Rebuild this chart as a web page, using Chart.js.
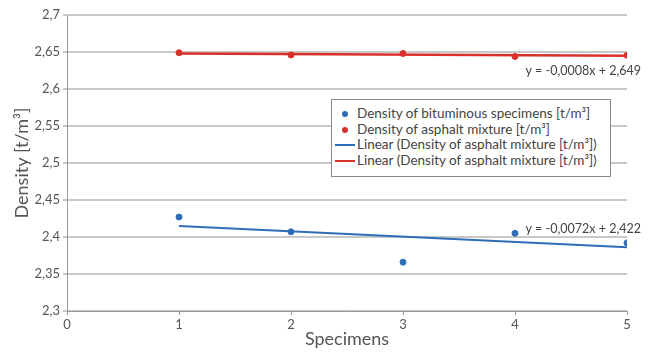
<!DOCTYPE html>
<html>
<head>
<meta charset="utf-8">
<script src="https://cdn.jsdelivr.net/npm/chart.js@4"></script>
<style>
    body { margin: 0; background: #fff; }
    #wrap { position: relative; width: 651px; height: 354px; }
    #legend {
        position: absolute; left: 331px; top: 99px; width: 280px; height: 78px;
        border: 1px solid #8a8a8a; background: #fff; box-sizing: border-box;
        font-family: Lato, sans-serif; font-size: 13.5px; color: #444;
        padding: 6px 0 0 3px; line-height: 15.5px;
    }
    .row { display: flex; align-items: center; white-space: nowrap; }
    .mk { width: 20px; height: 15px; position: relative; margin-right: 2px; }
    .dot { position: absolute; left: 7px; top: 5px; width: 6px; height: 6px; border-radius: 50%; }
    .ln { position: absolute; left: 0; top: 7px; width: 20px; height: 2px; }
</style>
</head>
<body>
<div id="wrap">
    <canvas id="chart" width="651" height="354"></canvas>
    <div id="legend"></div>
</div>
<script>

const specimens = [1, 2, 3, 4, 5];

const bituminousDensity = [2.427, 2.407, 2.366, 2.405, 2.392];

const asphaltDensity = [2.649, 2.646, 2.648, 2.644, 2.6455];

const trendX = [1, 5];

const blueTrend = [2.415, 2.386];

const redTrend = [2.648, 2.645];

const yTicks = [2.3, 2.35, 2.4, 2.45, 2.5, 2.55, 2.6, 2.65, 2.7];

const legendLabels = [
    "Density of bituminous specimens [t/m³]",
    "Density of asphalt mixture [t/m³]",
    "Linear (Density of asphalt mixture [t/m³])",
    "Linear (Density of asphalt mixture [t/m³])"
];

const blue = "#2f6db5";
const red = "#d9302b";
const textColor = "#555";
const font = "Lato, sans-serif";

const toPoints = (xs, ys) => xs.map((x, i) => ({ x: x, y: ys[i] }));

const comma = v => String(v).replace(".", ",");

const legend = document.getElementById("legend");

const legendStyles = [
    { type: "dot", color: blue },
    { type: "dot", color: red },
    { type: "ln", color: blue },
    { type: "ln", color: red }
];

legendLabels.forEach((label, i) => {
    const row = document.createElement("div");
    row.className = "row";
    const mk = document.createElement("span");
    mk.className = "mk";
    const sym = document.createElement("span");
    sym.className = legendStyles[i].type;
    sym.style.background = legendStyles[i].color;
    mk.appendChild(sym);
    const txt = document.createElement("span");
    txt.textContent = label;
    row.appendChild(mk);
    row.appendChild(txt);
    legend.appendChild(row);
});

// equation labels next to the trend lines
const equationLabels = {
    id: "equations",
    afterDatasetsDraw(chart) {
        const { ctx, scales } = chart;
        ctx.save();
        ctx.font = "12.5px " + font;
        ctx.fillStyle = "#444";
        ctx.textAlign = "right";
        ctx.textBaseline = "middle";
        ctx.fillText("y = -0,0008x + 2,649", scales.x.getPixelForValue(5) + 14, scales.y.getPixelForValue(2.6245));
        ctx.fillText("y = -0,0072x + 2,422", scales.x.getPixelForValue(5) + 14, scales.y.getPixelForValue(2.411));
        ctx.restore();
    }
};

new Chart(document.getElementById("chart"), {

    type: "scatter",

    data: {
        datasets: [
            {
                data: toPoints(trendX, redTrend),
                showLine: true,
                borderColor: red,
                borderWidth: 2.5,
                pointRadius: 0
            },
            {
                data: toPoints(trendX, blueTrend),
                showLine: true,
                borderColor: blue,
                borderWidth: 2,
                pointRadius: 0
            },
            {
                data: toPoints(specimens, asphaltDensity),
                backgroundColor: red,
                borderColor: red,
                pointRadius: 3
            },
            {
                data: toPoints(specimens, bituminousDensity),
                backgroundColor: blue,
                borderColor: blue,
                pointRadius: 3
            }
        ]
    },

    options: {
        responsive: false,
        animation: false,
        layout: { padding: { top: 15, right: 24, left: 0, bottom: 0 } },
        plugins: {
            legend: { display: false },
            tooltip: { enabled: false }
        },
        scales: {
            x: {
                type: "linear",
                min: 0,
                max: 5,
                afterFit: s => { s.height = 43; },
                ticks: {
                    stepSize: 1,
                    color: textColor,
                    font: { family: font, size: 13 },
                    padding: 2
                },
                grid: {
                    drawOnChartArea: false,
                    color: "#999",
                    tickLength: 4
                },
                border: { color: "#999", width: 1 },
                title: {
                    display: true,
                    text: "Specimens",
                    color: textColor,
                    font: { family: font, size: 18 },
                    padding: { top: 0 }
                }
            },
            y: {
                min: 2.3,
                max: 2.7,
                afterFit: s => { s.width = 67; },
                afterBuildTicks: s => { s.ticks = yTicks.map(v => ({ value: v })); },
                ticks: {
                    color: textColor,
                    font: { family: font, size: 13 },
                    padding: 3,
                    callback: v => comma(v)
                },
                grid: {
                    color: "#c8c8c8",
                    lineWidth: 2,
                    tickLength: 4
                },
                border: { color: "#999", width: 1 },
                title: {
                    display: true,
                    text: "Density [t/m³]",
                    color: textColor,
                    font: { family: font, size: 18 },
                    padding: { top: 11, bottom: 0 }
                }
            }
        }
    },

    plugins: [equationLabels]

});
</script>
</body>
</html>
